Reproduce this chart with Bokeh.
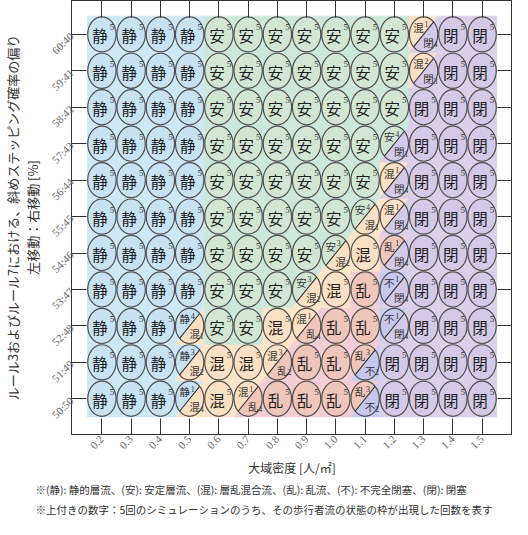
import math
import numpy as np
from bokeh.plotting import figure
from bokeh.models import (Range1d, FixedTicker, LinearAxis, CustomJSTickFormatter,
                          Title, ColumnDataSource)
from bokeh.core.properties import value
from bokeh.embed import file_html
from bokeh.resources import INLINE

# ---------------- data ----------------
densities = [0.2, 0.3, 0.4, 0.5, 0.6, 0.7, 0.8, 0.9, 1.0, 1.1, 1.2, 1.3, 1.4, 1.5]
ratio_labels = ["50:50", "51:49", "52:48", "53:47", "54:46", "55:45",
                "56:44", "57:43", "58:42", "59:41", "60:40"]

# each cell: state + count (out of 5); "A1/B4" = two states observed
row_60_40 = ["静5", "静5", "静5", "静5", "安5", "安5", "安5", "安5", "安5", "安5", "安5", "混1/閉4", "閉5", "閉5"]
row_59_41 = ["静5", "静5", "静5", "静5", "安5", "安5", "安5", "安5", "安5", "安5", "安5", "混2/閉3", "閉5", "閉5"]
row_58_42 = ["静5", "静5", "静5", "静5", "安5", "安5", "安5", "安5", "安5", "安5", "安5", "閉5", "閉5", "閉5"]
row_57_43 = ["静5", "静5", "静5", "静5", "安5", "安5", "安5", "安5", "安5", "安5", "安4/閉1", "閉5", "閉5", "閉5"]
row_56_44 = ["静5", "静5", "静5", "静5", "安5", "安5", "安5", "安5", "安5", "安5", "混1/閉4", "閉5", "閉5", "閉5"]
row_55_45 = ["静5", "静5", "静5", "静5", "安5", "安5", "安5", "安5", "安5", "安4/混1", "混1/閉4", "閉5", "閉5", "閉5"]
row_54_46 = ["静5", "静5", "静5", "静5", "安5", "安5", "安5", "安5", "安3/混2", "混5", "乱1/閉4", "閉5", "閉5", "閉5"]
row_53_47 = ["静5", "静5", "静5", "静5", "安5", "安5", "安5", "安3/混2", "混5", "乱5", "不1/閉4", "閉5", "閉5", "閉5"]
row_52_48 = ["静5", "静5", "静5", "静4/混1", "安5", "安5", "混5", "混1/乱4", "乱5", "乱5", "不1/閉4", "閉5", "閉5", "閉5"]
row_51_49 = ["静5", "静5", "静5", "静3/混2", "混5", "混5", "混3/乱2", "乱5", "乱5", "乱3/不2", "閉5", "閉5", "閉5", "閉5"]
row_50_50 = ["静5", "静5", "静5", "静1/混4", "混5", "混1/乱4", "乱5", "乱5", "乱5", "乱3/不2", "閉5", "閉5", "閉5", "閉5"]

rows_bottom_to_top = [row_50_50, row_51_49, row_52_48, row_53_47, row_54_46, row_55_45,
                      row_56_44, row_57_43, row_58_42, row_59_41, row_60_40]

bg_colors = {"静": "#cde8f6", "安": "#cce8da", "混": "#fde5c7",
             "乱": "#f4ced4", "不": "#c8cef0", "閉": "#dad0ec"}
circle_colors = {"静": "#c6e2f3", "安": "#d2e6d3", "混": "#fbe0c3",
                 "乱": "#efc6b9", "不": "#c5c8ec", "閉": "#d4c9e8"}

x_axis_title = "大域密度 [人/㎡]"
y_axis_title = "ルール3およびルール7における、斜めステッピング確率の偏り\n左移動：右移動 [%]"
note1 = "※(静): 静的層流、(安): 安定層流、(混): 層乱混合流、(乱): 乱流、(不): 不完全閉塞、(閉): 閉塞"
note2 = "※上付きの数字：5回のシミュレーションのうち、その歩行者流の状態の枠が出現した回数を表す"

JP = "Noto Sans CJK JP"
NUM = "Liberation Serif"

# ---------------- geometry derived from data ----------------
CW, CH = 0.1, 1.0          # cell size in data units
EW, EH = 0.097, 0.965      # ellipse size in data units

bg = dict(xs=[], ys=[], c=[])
halves = dict(xs=[], ys=[], c=[])
singles = dict(x=[], y=[], s=[], n=[], c=[])
splits = dict(x=[], y=[], s1=[], n1=[], s2=[], n2=[],
              dx0=[], dy0=[], dx1=[], dy1=[])
allc = dict(x=[], y=[])

t_up = np.linspace(math.pi / 4, 5 * math.pi / 4, 48)
t_lo = np.linspace(5 * math.pi / 4, 9 * math.pi / 4, 48)
k = math.cos(math.pi / 4)

for yi, row in enumerate(rows_bottom_to_top):
    for d, cell in zip(densities, row):
        parts = [(p[0], p[1:]) for p in cell.split("/")]
        x0, x1 = d - CW / 2, d + CW / 2
        y0, y1 = yi - CH / 2, yi + CH / 2
        allc["x"].append(d)
        allc["y"].append(yi)
        if len(parts) == 1:
            s, n = parts[0]
            bg["xs"].append([x0, x1, x1, x0]); bg["ys"].append([y0, y0, y1, y1]); bg["c"].append(bg_colors[s])
            singles["x"].append(d); singles["y"].append(yi)
            singles["s"].append(s); singles["n"].append(n); singles["c"].append(circle_colors[s])
        else:
            (s1, n1), (s2, n2) = parts
            bg["xs"].append([x0, x0, x1]); bg["ys"].append([y0, y1, y1]); bg["c"].append(bg_colors[s1])
            bg["xs"].append([x0, x1, x1]); bg["ys"].append([y0, y0, y1]); bg["c"].append(bg_colors[s2])
            halves["xs"].append(list(d + EW / 2 * np.cos(t_up)))
            halves["ys"].append(list(yi + EH / 2 * np.sin(t_up)))
            halves["c"].append(circle_colors[s1])
            halves["xs"].append(list(d + EW / 2 * np.cos(t_lo)))
            halves["ys"].append(list(yi + EH / 2 * np.sin(t_lo)))
            halves["c"].append(circle_colors[s2])
            splits["x"].append(d); splits["y"].append(yi)
            splits["s1"].append(s1); splits["n1"].append(n1)
            splits["s2"].append(s2); splits["n2"].append(n2)
            splits["dx0"].append(d - EW / 2 * k); splits["dy0"].append(yi - EH / 2 * k)
            splits["dx1"].append(d + EW / 2 * k); splits["dy1"].append(yi + EH / 2 * k)

# ---------------- figure ----------------
xr = Range1d(0.2 - 0.104, 1.5 + 0.104)
yr = Range1d(-0.98, 10.93)
p = figure(width=512, height=519, x_range=xr, y_range=yr,
           output_backend="svg", toolbar_location=None,
           min_border_left=62, min_border_right=0, min_border_top=0, min_border_bottom=0,
           outline_line_color="#333333", background_fill_color="white")
p.grid.visible = False

p.patches("xs", "ys", source=ColumnDataSource(bg), fill_color="c", line_color="c", line_width=0.6)
p.ellipse("x", "y", width=EW, height=EH, source=ColumnDataSource(singles),
          fill_color="c", line_color=None)
p.patches("xs", "ys", source=ColumnDataSource(halves), fill_color="c", line_color=None)
p.ellipse("x", "y", width=EW, height=EH, source=ColumnDataSource(allc),
          fill_color=None, line_color="#505050", line_width=1.2)
ssrc = ColumnDataSource(splits)
p.segment("dx0", "dy0", "dx1", "dy1", source=ssrc, line_color="#333333", line_width=1.1)

tsrc = ColumnDataSource(singles)
p.text("x", "y", text="s", source=tsrc, x_offset=-2, y_offset=1,
       text_font=value(JP), text_font_size="15.5px", text_color="#1e1e1e",
       text_align="center", text_baseline="middle")
p.text("x", "y", text="n", source=tsrc, x_offset=10, y_offset=-7,
       text_font=value(NUM), text_font_size="9px", text_color="#333333",
       text_align="center", text_baseline="middle")
p.text("x", "y", text="s1", source=ssrc, x_offset=-5, y_offset=-7,
       text_font=value(JP), text_font_size="10.5px", text_color="#333333",
       text_align="center", text_baseline="middle")
p.text("x", "y", text="n1", source=ssrc, x_offset=3, y_offset=-10,
       text_font=value(NUM), text_font_size="8px", text_color="#333333",
       text_align="center", text_baseline="middle")
p.text("x", "y", text="s2", source=ssrc, x_offset=5, y_offset=8,
       text_font=value(JP), text_font_size="10.5px", text_color="#333333",
       text_align="center", text_baseline="middle")
p.text("x", "y", text="n2", source=ssrc, x_offset=12, y_offset=10,
       text_font=value(NUM), text_font_size="8px", text_color="#333333",
       text_align="center", text_baseline="middle")

# ---------------- axes ----------------
xfmt = CustomJSTickFormatter(code="return tick.toFixed(1);")
yfmt = CustomJSTickFormatter(args=dict(labels=ratio_labels),
                             code="return labels[Math.round(tick)];")
blank = CustomJSTickFormatter(code="return '';")
yticks = list(range(len(ratio_labels)))


def style(ax, tick_len):
    ax.major_tick_in = tick_len
    ax.major_tick_out = 0
    ax.minor_tick_line_color = None
    ax.axis_line_color = "#333333"
    ax.major_tick_line_color = "#333333"
    ax.major_label_text_font = NUM
    ax.major_label_text_font_size = "11px"
    ax.major_label_text_color = "#666666"


xa = p.xaxis[0]
xa.ticker = FixedTicker(ticks=densities)
xa.formatter = xfmt
style(xa, 16)
xa.major_label_orientation = math.pi / 4
xa.major_label_standoff = 3
xa.axis_label = x_axis_title
xa.axis_label_text_font = JP
xa.axis_label_text_font_size = "12px"
xa.axis_label_text_font_style = "normal"
xa.axis_label_text_color = "#333333"
xa.axis_label_standoff = 4

ya = p.yaxis[0]
ya.ticker = FixedTicker(ticks=yticks)
ya.formatter = yfmt
style(ya, 15)
ya.major_label_orientation = math.pi / 4
ya.major_label_standoff = 0
ya.axis_label = y_axis_title
ya.axis_label_text_font = JP
ya.axis_label_text_font_size = "13px"
ya.axis_label_text_line_height = 1.05
ya.axis_label_text_font_style = "normal"
ya.axis_label_text_color = "#333333"
ya.axis_label_standoff = 0

top = LinearAxis(ticker=FixedTicker(ticks=densities), formatter=blank)
style(top, 17)
top.major_label_text_font_size = "0px"
top.major_label_standoff = 0
top.axis_label_standoff = 0
p.add_layout(top, "above")
right = LinearAxis(ticker=FixedTicker(ticks=yticks), formatter=blank)
style(right, 15)
right.major_label_text_font_size = "0px"
right.major_label_standoff = 0
right.axis_label_standoff = 0
p.add_layout(right, "right")

for txt, so in ((note1, 0), (note2, 6)):
    p.add_layout(Title(text=txt, align="left", offset=-36, standoff=so,
                       text_font=JP, text_font_size="10.5px", text_font_style="normal",
                       text_color="#333333"), "below")

open("out.html", "w").write(file_html(p, INLINE))
